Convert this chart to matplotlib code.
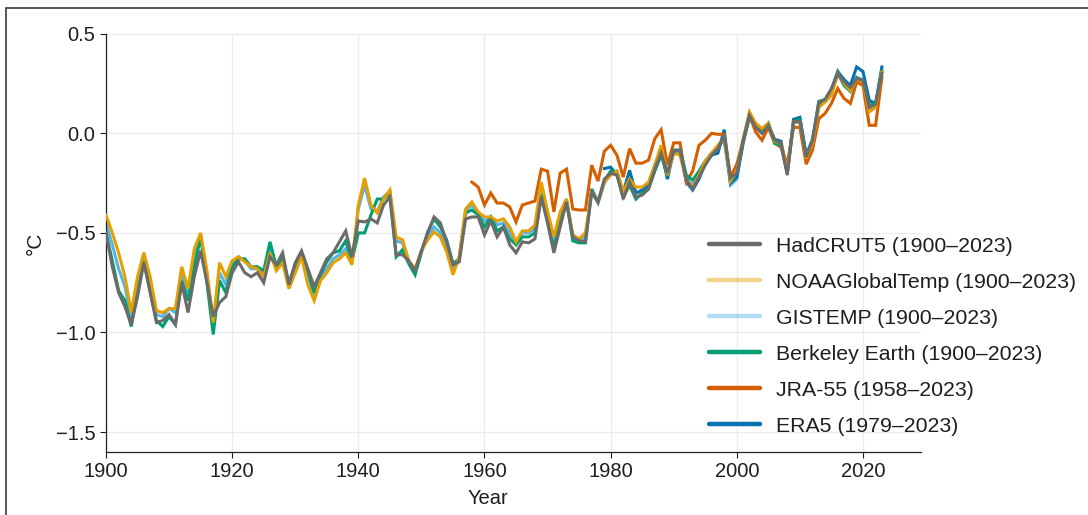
import numpy as np
import matplotlib
matplotlib.use('Agg')
import matplotlib.pyplot as plt
from matplotlib.lines import Line2D
from matplotlib.patches import Rectangle

plt.rcParams['font.family'] = ['Liberation Sans', 'DejaVu Sans']

years = np.arange(1900, 2024)
years_jra = np.arange(1958, 2024)
years_era = np.arange(1979, 2024)

hadcrut5 = [
    -0.50, -0.67, -0.80, -0.87, -0.96, -0.82, -0.65, -0.80, -0.95, -0.94,
    -0.91, -0.96, -0.75, -0.90, -0.72, -0.59, -0.75, -0.92, -0.85, -0.82,
    -0.70, -0.645, -0.70, -0.72, -0.70, -0.75, -0.62, -0.66, -0.60, -0.76,
    -0.65, -0.59, -0.68, -0.77, -0.70, -0.63, -0.60, -0.545, -0.49, -0.62,
    -0.44, -0.445, -0.43, -0.45, -0.36, -0.32, -0.61, -0.61, -0.64, -0.69,
    -0.59, -0.50, -0.42, -0.45, -0.545, -0.66, -0.645, -0.43, -0.42, -0.42,
    -0.51, -0.44, -0.52, -0.47, -0.56, -0.60, -0.545, -0.55, -0.53, -0.32,
    -0.45, -0.60, -0.47, -0.345, -0.52, -0.54, -0.545, -0.295, -0.345, -0.23,
    -0.20, -0.21, -0.33, -0.245, -0.32, -0.31, -0.28, -0.18, -0.10, -0.20,
    -0.09, -0.085, -0.235, -0.28, -0.22, -0.16, -0.11, -0.077, -0.01, -0.225,
    -0.20, -0.035, 0.09, 0.03, 0.0, 0.04, -0.035, -0.05, -0.21, 0.057,
    0.06, -0.12, -0.035, 0.155, 0.17, 0.225, 0.30, 0.257, 0.23, 0.275,
    0.266, 0.13, 0.145, 0.30,
]

noaa = [
    -0.41, -0.50, -0.60, -0.72, -0.90, -0.72, -0.60, -0.72, -0.89, -0.90,
    -0.88, -0.88, -0.67, -0.78, -0.58, -0.50, -0.69, -0.95, -0.65, -0.72,
    -0.64, -0.62, -0.645, -0.67, -0.68, -0.72, -0.60, -0.69, -0.65, -0.78,
    -0.70, -0.62, -0.76, -0.84, -0.74, -0.70, -0.65, -0.63, -0.60, -0.66,
    -0.36, -0.225, -0.36, -0.40, -0.33, -0.285, -0.52, -0.535, -0.64, -0.68,
    -0.59, -0.535, -0.495, -0.52, -0.595, -0.71, -0.62, -0.38, -0.345, -0.395,
    -0.42, -0.42, -0.44, -0.43, -0.47, -0.545, -0.49, -0.49, -0.46, -0.245,
    -0.39, -0.52, -0.395, -0.33, -0.51, -0.53, -0.50, -0.295, -0.345, -0.245,
    -0.21, -0.19, -0.29, -0.23, -0.27, -0.27, -0.245, -0.16, -0.06, -0.21,
    -0.10, -0.11, -0.235, -0.27, -0.21, -0.14, -0.10, -0.06, -0.027, -0.24,
    -0.19, -0.03, 0.107, 0.05, 0.024, 0.05, -0.04, -0.05, -0.19, 0.056,
    0.056, -0.127, -0.05, 0.13, 0.157, 0.19, 0.30, 0.25, 0.215, 0.274,
    0.257, 0.107, 0.13, 0.307,
]

gistemp = [
    -0.45, -0.56, -0.68, -0.77, -0.93, -0.75, -0.60, -0.75, -0.91, -0.92,
    -0.88, -0.90, -0.70, -0.80, -0.62, -0.51, -0.71, -0.96, -0.70, -0.76,
    -0.65, -0.62, -0.64, -0.68, -0.68, -0.71, -0.58, -0.67, -0.63, -0.77,
    -0.68, -0.61, -0.72, -0.82, -0.72, -0.68, -0.63, -0.61, -0.58, -0.65,
    -0.38, -0.26, -0.38, -0.39, -0.32, -0.29, -0.54, -0.55, -0.64, -0.69,
    -0.59, -0.52, -0.47, -0.50, -0.57, -0.69, -0.62, -0.39, -0.36, -0.40,
    -0.44, -0.42, -0.46, -0.45, -0.50, -0.55, -0.50, -0.50, -0.48, -0.27,
    -0.41, -0.55, -0.41, -0.33, -0.52, -0.54, -0.52, -0.29, -0.35, -0.25,
    -0.20, -0.19, -0.30, -0.24, -0.30, -0.29, -0.26, -0.17, -0.08, -0.21,
    -0.09, -0.10, -0.23, -0.26, -0.20, -0.14, -0.10, -0.07, -0.03, -0.26,
    -0.23, -0.04, 0.10, 0.04, 0.02, 0.05, -0.04, -0.05, -0.19, 0.06,
    0.06, -0.12, -0.04, 0.14, 0.16, 0.20, 0.31, 0.25, 0.22, 0.28,
    0.27, 0.12, 0.14, 0.31,
]

berkeley = [
    -0.50, -0.64, -0.79, -0.84, -0.97, -0.79, -0.64, -0.79, -0.94, -0.97,
    -0.92, -0.96, -0.74, -0.84, -0.67, -0.52, -0.75, -1.01, -0.74, -0.80,
    -0.67, -0.63, -0.63, -0.67, -0.67, -0.69, -0.545, -0.67, -0.63, -0.75,
    -0.66, -0.60, -0.69, -0.80, -0.71, -0.645, -0.60, -0.59, -0.54, -0.64,
    -0.50, -0.50, -0.41, -0.33, -0.33, -0.30, -0.62, -0.585, -0.655, -0.71,
    -0.60, -0.495, -0.43, -0.47, -0.535, -0.655, -0.63, -0.40, -0.385, -0.41,
    -0.47, -0.42, -0.49, -0.47, -0.53, -0.56, -0.52, -0.52, -0.50, -0.31,
    -0.44, -0.58, -0.44, -0.34, -0.54, -0.55, -0.55, -0.28, -0.345, -0.24,
    -0.19, -0.20, -0.32, -0.26, -0.33, -0.30, -0.28, -0.19, -0.11, -0.21,
    -0.085, -0.085, -0.21, -0.235, -0.19, -0.14, -0.10, -0.07, -0.027, -0.235,
    -0.20, -0.04, 0.09, 0.04, 0.01, 0.05, -0.05, -0.06, -0.20, 0.06,
    0.07, -0.11, -0.04, 0.16, 0.17, 0.22, 0.30, 0.24, 0.21, 0.28,
    0.26, 0.14, 0.15, 0.31,
]

jra55 = [
    -0.245, -0.27, -0.36, -0.30, -0.35, -0.35, -0.37, -0.445, -0.36, -0.35,
    -0.34, -0.18, -0.19, -0.395, -0.20, -0.18, -0.38, -0.385, -0.385, -0.16,
    -0.24, -0.09, -0.06, -0.11, -0.22, -0.077, -0.15, -0.15, -0.135, -0.027,
    0.018, -0.16, -0.048, -0.048, -0.245, -0.19, -0.06, -0.035, 0.0, -0.005,
    -0.005, -0.22, -0.155, -0.035, 0.09, 0.006, -0.035, 0.03, -0.05, -0.07,
    -0.155, 0.03, 0.03, -0.155, -0.085, 0.073, 0.10, 0.15, 0.225, 0.175,
    0.15, 0.257, 0.24, 0.04, 0.04, 0.28,
]

era5 = [
    -0.177, -0.17, -0.21, -0.295, -0.186, -0.30, -0.285, -0.26, -0.16, -0.085,
    -0.23, -0.085, -0.085, -0.245, -0.285, -0.23, -0.15, -0.11, -0.10, 0.018,
    -0.25, -0.22, -0.05, 0.08, 0.03, 0.0, 0.04, -0.03, -0.04, -0.20,
    0.07, 0.08, -0.11, -0.03, 0.14, 0.16, 0.22, 0.31, 0.27, 0.24,
    0.333, 0.31, 0.165, 0.15, 0.333,
]

# label, x, y, colour, zorder
series = [
    ('GISTEMP (1900–2023)', years, gistemp, '#56B4E9', 2),
    ('ERA5 (1979–2023)', years_era, era5, '#0072B2', 3),
    ('JRA-55 (1958–2023)', years_jra, jra55, '#D55E00', 4),
    ('Berkeley Earth (1900–2023)', years, berkeley, '#009E73', 5),
    ('NOAAGlobalTemp (1900–2023)', years, noaa, '#E69F00', 6),
    ('HadCRUT5 (1900–2023)', years, hadcrut5, '#6b6b6b', 7),
]

text_col = '#1e1e1e'

fig = plt.figure(figsize=(10.88, 5.15), dpi=100)
ax = fig.add_axes([106 / 1088, 1 - 452 / 515, 815 / 1088, 418.3 / 515])

for label, x, y, col, z in series:
    ax.plot(x, y, color=col, lw=2.2, zorder=z, solid_joinstyle='miter')

ax.set_xlim(1900, 2029.2)
ax.set_ylim(-1.6, 0.5)
ax.set_xticks([1900, 1920, 1940, 1960, 1980, 2000, 2020])
ax.set_yticks([-1.5, -1.0, -0.5, 0.0, 0.5])
ax.grid(True, color='#ebebeb', lw=0.9, zorder=0)
ax.set_axisbelow(True)

for side in ['top', 'right']:
    ax.spines[side].set_visible(False)
for side in ['left', 'bottom']:
    ax.spines[side].set_color('#222222')
    ax.spines[side].set_linewidth(0.9)

ax.tick_params(labelsize=14.5, colors=text_col, length=4, width=0.8)

ax.set_xlabel('Year', fontsize=14.5, color=text_col)
ax.xaxis.set_label_coords(0.469, -0.088)
ax.set_ylabel('°C', fontsize=15, color=text_col, labelpad=8)

# legend order and faded handles as in the original
legend_items = [
    ('HadCRUT5 (1900–2023)', '#6b6b6b', 1.0),
    ('NOAAGlobalTemp (1900–2023)', '#E69F00', 0.45),
    ('GISTEMP (1900–2023)', '#56B4E9', 0.45),
    ('Berkeley Earth (1900–2023)', '#009E73', 1.0),
    ('JRA-55 (1958–2023)', '#D55E00', 1.0),
    ('ERA5 (1979–2023)', '#0072B2', 1.0),
]
handles = [Line2D([0], [0], color=c, lw=3.2, alpha=a, solid_capstyle='round')
           for _, c, a in legend_items]
labels = [l for l, _, _ in legend_items]
leg = ax.legend(handles, labels, loc='upper left', bbox_to_anchor=(0.74, 0.515),
                frameon=False, fontsize=15.3, borderpad=0, borderaxespad=0,
                handlelength=2.4, handletextpad=0.75, labelspacing=0.8)
for t in leg.get_texts():
    t.set_color(text_col)

fig.add_artist(Rectangle((6 / 1088, -0.1), 1.2, 1.1 - 8 / 515, transform=fig.transFigure,
                         fill=False, ec='#3a3a3a', lw=1.2))

plt.savefig('out.png', dpi=100)
